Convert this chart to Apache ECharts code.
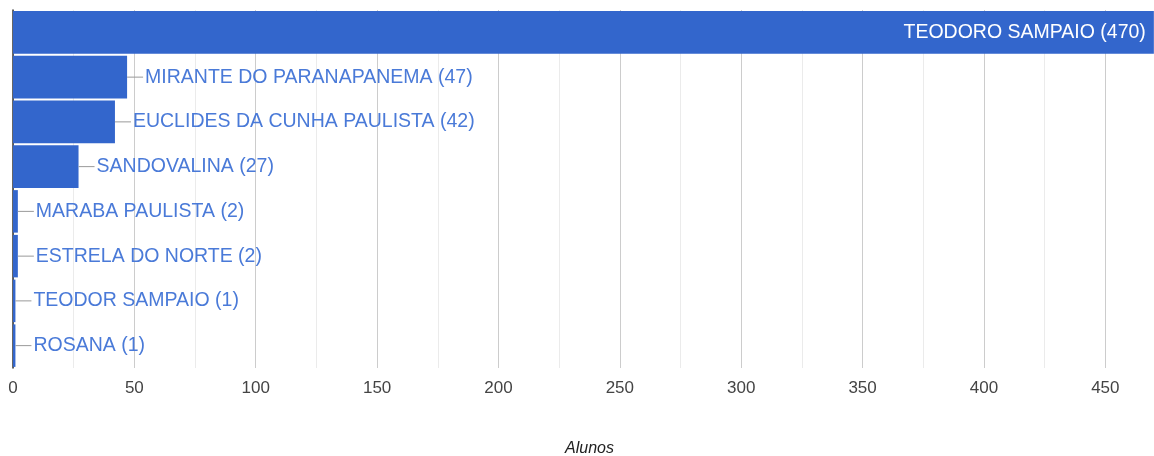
<!DOCTYPE html>
<html>
<head>
<meta charset="utf-8">
<script src="https://cdn.jsdelivr.net/npm/echarts@6/dist/echarts.min.js"></script>
<style>
  html, body { margin: 0; padding: 0; background: #fff; }
  #chart { width: 1154px; height: 456px; }
</style>
</head>
<body>
<div id="chart"></div>
<script>
// dados
let cidades = ['TEODORO SAMPAIO', 'MIRANTE DO PARANAPANEMA', 'EUCLIDES DA CUNHA PAULISTA',
  'SANDOVALINA', 'MARABA PAULISTA', 'ESTRELA DO NORTE', 'TEODOR SAMPAIO', 'ROSANA']
let alunos = [470, 47, 42, 27, 2, 2, 1, 1]
let xTicks = [0, 50, 100, 150, 200, 250, 300, 350, 400, 450]

let myChart = echarts.init(document.getElementById('chart'))
let fonte = '"Liberation Sans", Arial, sans-serif'

let dados = alunos.map((v, i) => {
  let item = { value: v }
  if (i === 0) {
    // a maior barra leva o rotulo por dentro
    item.label = {
      position: 'insideRight',
      distance: 8,
      formatter: '{b} ({c})',
      color: '#fff',
      rich: {}
    }
  }
  return item
})

let option = {
  animation: false,
  grid: { left: 13, right: -12, top: 10, bottom: 88, containLabel: false, outerBoundsMode: 'none' },
  xAxis: {
    type: 'value',
    min: 0,
    max: 475,
    interval: 25,
    name: 'Alunos',
    nameLocation: 'middle',
    nameGap: 73,
    nameTextStyle: { fontFamily: fonte, fontSize: 16, fontStyle: 'italic', color: '#222' },
    axisLine: { show: false },
    axisTick: { show: false },
    axisLabel: {
      margin: 12,
      fontFamily: fonte,
      fontSize: 17,
      color: '#444',
      formatter: function (v) {
        return xTicks.indexOf(v) >= 0 ? String(v) : ''
      }
    },
    splitLine: { show: true, lineStyle: { color: ['#cccccc', '#ebebeb'], width: 1 } }
  },
  yAxis: {
    type: 'category',
    inverse: true,
    data: cidades,
    axisLine: { show: true, lineStyle: { color: '#333', width: 1.5 } },
    axisTick: { show: false },
    axisLabel: { show: false },
    splitLine: { show: false }
  },
  series: [{
    type: 'bar',
    data: dados,
    barCategoryGap: '5%',
    itemStyle: { color: '#3366cc' },
    label: {
      show: true,
      position: 'right',
      distance: 0,
      fontFamily: fonte,
      fontSize: 19.5,
      color: '#4a7ad8',
      formatter: '{l|}{t|{b} ({c})}',
      rich: {
        l: { width: 16, height: 1, backgroundColor: '#999' },
        t: { fontFamily: fonte, fontSize: 19.5, color: '#4a7ad8', padding: [0, 0, 0, 2] }
      }
    }
  }]
}
myChart.setOption(option)
</script>
</body>
</html>
